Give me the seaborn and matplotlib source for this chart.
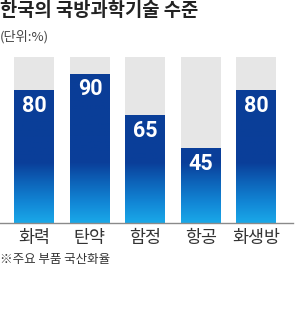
import numpy as np
import matplotlib
matplotlib.use("Agg")
import matplotlib.pyplot as plt
from matplotlib.colors import LinearSegmentedColormap
import pandas as pd
import seaborn as sns

categories = ["화력", "탄약", "함정", "항공", "화생방"]
values = [80, 90, 65, 45, 80]
full = [100, 100, 100, 100, 100]
title = "한국의 국방과학기술 수준"
unit = "(단위:%)"
note = "※주요 부품 국산화율"

sns.set_theme(style="white")
plt.rcParams['font.family'] = ['Noto Sans CJK KR', 'DejaVu Sans']

df = pd.DataFrame({"cat": categories, "val": values, "full": full})

fig = plt.figure(figsize=(3.0, 3.23), dpi=100)
W, H = 300, 323
ax = fig.add_axes([0, 1 - 223 / H, 293 / W, (223 - 57) / H])

sns.barplot(data=df, x="cat", y="full", color="#e6e6e6", width=0.72,
            saturation=1, ax=ax, edgecolor="none")
sns.barplot(data=df, x="cat", y="val", color="#0a3d98", width=0.72,
            saturation=1, ax=ax, edgecolor="none")

ax.set_xlim(-0.62, 4.66)
ax.set_ylim(0, 100)

# gradient fill in value bars
cmap = LinearSegmentedColormap.from_list(
    "g", [(0.0, "#1aa8e8"), (0.12, "#1287d6"), (0.25, "#0d62b8"),
          (0.36, "#0a3f9a"), (1.0, "#0a3d96")])
grad = np.linspace(0, 1, 256).reshape(-1, 1)
n = len(categories)
for patch in ax.patches[n:]:
    im = ax.imshow(grad, cmap=cmap, aspect="auto", origin="lower",
                   extent=[-0.62, 4.66, 0, 100], zorder=patch.get_zorder() + 0.1)
    im.set_clip_path(patch)

for i, v in enumerate(values):
    ax.text(i, v - 9.5, str(v), ha="center", va="center", color="white",
            fontsize=15.5, fontweight="bold",
            family=["Roboto", "DejaVu Sans"], zorder=10)

for s in ["top", "right", "left"]:
    ax.spines[s].set_visible(False)
ax.spines["bottom"].set_color("#8a8a8a")
ax.spines["bottom"].set_linewidth(1.0)
ax.set_yticks([])
ax.set_xlabel("")
ax.set_ylabel("")
ax.tick_params(axis="x", length=0, pad=4, labelsize=12.5, colors="#333333")

fig.text(0, 1 - 1 / H, title, ha="left", va="top", fontsize=13.5,
         fontweight="heavy", color="#222222")
fig.text(0, 1 - 30 / H, unit, ha="left", va="top", fontsize=9.5,
         color="#444444")
fig.text(0, 1 - 253 / H, note, ha="left", va="top", fontsize=9,
         color="#333333")

fig.savefig("out.png", dpi=100)
